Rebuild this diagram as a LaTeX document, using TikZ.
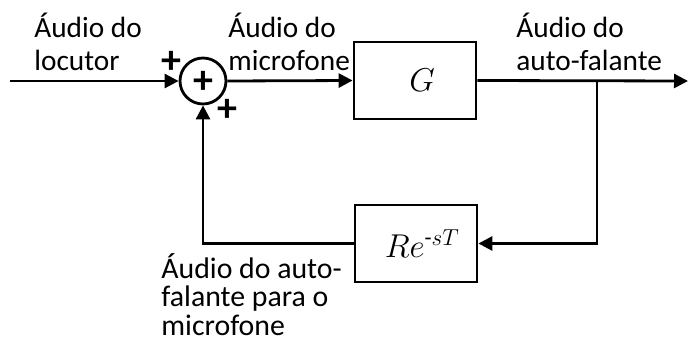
\documentclass[tikz,border=0pt]{standalone}
\usepackage{fix-cm}
\usepackage{amsmath}
\usepackage{fontspec}
\setmainfont{Carlito}
\usetikzlibrary{arrows.meta}
\begin{document}
\begin{tikzpicture}[x=1pt,y=-1pt,
  line width=2.8pt,
  arr/.style={-{Triangle[length=14pt,width=14pt]}},
  blk/.style={draw, line width=2.8pt, minimum width=122pt, minimum height=77pt, inner sep=0pt, font=\fontsize{33}{38}\selectfont},
  sumnode/.style={draw, circle, minimum size=46pt, inner sep=0pt, line width=2.8pt},
  lbl/.style={font=\fontsize{29.3}{33}\selectfont, align=left, anchor=base west, inner sep=0pt},
  sgn/.style={font=\fontsize{40}{40}\selectfont\bfseries, inner sep=0pt}]
\useasboundingbox (0,0) rectangle (688,343);
\node[sumnode] (sum) at (203,81) {};
\node[sgn] (pc) at (203,82) {+};
\node[sgn] (p1) at (171,62) {+};
\node[sgn] (p2) at (227,110) {+};
\node[blk] (G) at (415,80.5) {\hspace*{14pt}$G$};
\node[blk] (R) at (416,243.5) {\hspace*{12pt}$Re^{\text{-}sT}$};
\coordinate (in) at (10,81);
\coordinate (out) at (688,81);
\coordinate (br) at (597,81);
\draw[arr] (in) -- (sum.west);
\draw[arr] (sum.east) -- (G.west);
\draw[arr] (G.east) -- (out);
\draw[arr] (br) |- (R.east);
\draw[arr] (R.west) -| (sum.south);
\node[lbl] (l1) at (33,70) {Áudio do\\locutor};
\node[lbl] (l2) at (227,70) {Áudio do\\microfone};
\node[lbl] (l3) at (515,70) {Áudio do\\auto-falante};
\node[lbl, font=\fontsize{29.8}{28.5}\selectfont] (l4) at (160,335) {Áudio do auto-\\falante para o\\microfone};
\end{tikzpicture}
\end{document}
